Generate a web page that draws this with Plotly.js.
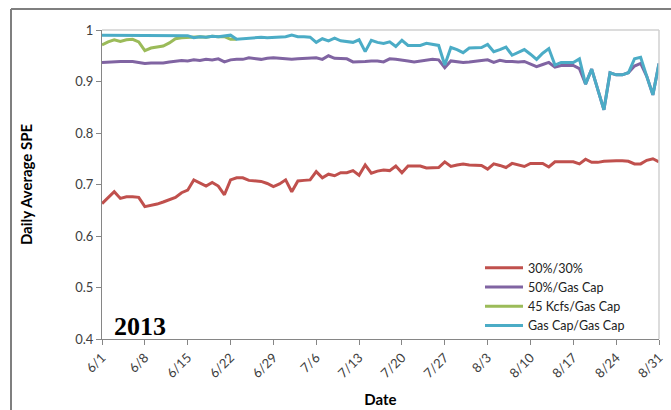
<!DOCTYPE html>
<html><head><meta charset="utf-8">
<script src="https://cdn.plot.ly/plotly-3.0.1.min.js"></script>
<style>html,body{margin:0;padding:0;background:#fff}#chart{width:671px;height:410px}</style>
</head><body><div id="chart"></div>
<script>
// ---- data ----
const startDate = '2013-06-01';
const seriesNames = ['30%/30%', '50%/Gas Cap', '45 Kcfs/Gas Cap', 'Gas Cap/Gas Cap'];
const seriesColors = ['#C0504D', '#8064A2', '#9BBB59', '#4BACC6'];

const red = [
  0.663, 0.675, 0.686, 0.673, 0.676, 0.676, 0.675, 0.657, 0.659, 0.662,
  0.666, 0.670, 0.675, 0.684, 0.689, 0.709, 0.703, 0.697, 0.704, 0.697,
  0.680, 0.709, 0.713, 0.713, 0.708, 0.707, 0.706, 0.702, 0.696, 0.701,
  0.709, 0.686, 0.707, 0.708, 0.709, 0.725, 0.713, 0.720, 0.717, 0.723,
  0.723, 0.727, 0.718, 0.738, 0.722, 0.726, 0.728, 0.727, 0.736, 0.723,
  0.736, 0.736, 0.736, 0.732, 0.733, 0.733, 0.744, 0.735, 0.738, 0.740,
  0.738, 0.737, 0.737, 0.730, 0.740, 0.737, 0.733, 0.741, 0.738, 0.735,
  0.741, 0.741, 0.741, 0.734, 0.744, 0.744, 0.744, 0.744, 0.740, 0.749,
  0.743, 0.743, 0.745, 0.746, 0.746, 0.746, 0.745, 0.740, 0.740, 0.747,
  0.750, 0.744
];
const purple = [
  0.937, 0.938, 0.939, 0.939, 0.939, 0.939, 0.937, 0.935, 0.936, 0.936,
  0.936, 0.938, 0.940, 0.941, 0.940, 0.942, 0.941, 0.943, 0.942, 0.944,
  0.938, 0.942, 0.943, 0.943, 0.946, 0.944, 0.943, 0.945, 0.946, 0.945,
  0.944, 0.943, 0.944, 0.945, 0.945, 0.946, 0.943, 0.950, 0.945, 0.945,
  0.944, 0.938, 0.938, 0.939, 0.940, 0.940, 0.938, 0.944, 0.943, 0.942,
  0.940, 0.938, 0.940, 0.942, 0.943, 0.942, 0.927, 0.940, 0.939, 0.937,
  0.938, 0.940, 0.941, 0.942, 0.937, 0.941, 0.939, 0.939, 0.938, 0.939,
  0.934, 0.929, 0.933, 0.937, 0.928, 0.931, 0.931, 0.931, 0.925, 0.895,
  0.924, 0.885, 0.845, 0.917, 0.913, 0.913, 0.917, 0.930, 0.935, 0.910,
  0.874, 0.935
];
const green = [
  0.971, 0.977, 0.981, 0.978, 0.981, 0.982, 0.977, 0.960, 0.965, 0.967,
  0.969, 0.975, 0.983, 0.985, 0.986, 0.986, 0.987, 0.986, 0.988, 0.987,
  0.987, 0.982, 0.982
];
const blue = [
  0.990, 0.990, 0.990, 0.990, 0.990, 0.990, 0.990, 0.990, 0.990, 0.990,
  0.990, 0.990, 0.990, 0.990, 0.989, 0.985, 0.987, 0.986, 0.988, 0.987,
  0.988, 0.990, 0.982, 0.983, 0.985, 0.985, 0.986, 0.985, 0.986, 0.986,
  0.987, 0.990, 0.987, 0.987, 0.986, 0.976, 0.983, 0.979, 0.984, 0.979,
  0.977, 0.976, 0.981, 0.958, 0.980, 0.976, 0.974, 0.977, 0.968, 0.980,
  0.970, 0.970, 0.970, 0.974, 0.972, 0.970, 0.932, 0.966, 0.962, 0.956,
  0.965, 0.966, 0.966, 0.972, 0.958, 0.962, 0.967, 0.951, 0.957, 0.962,
  0.953, 0.943, 0.955, 0.964, 0.932, 0.937, 0.937, 0.937, 0.944, 0.895,
  0.924, 0.885, 0.845, 0.917, 0.913, 0.913, 0.917, 0.944, 0.947, 0.910,
  0.874, 0.935
];

const xTickVals = ['2013-06-01','2013-06-08','2013-06-15','2013-06-22','2013-06-29','2013-07-06','2013-07-13',
                   '2013-07-20','2013-07-27','2013-08-03','2013-08-10','2013-08-17','2013-08-24','2013-08-31'];
const xTickText = ['6/1','6/8','6/15','6/22','6/29','7/6','7/13','7/20','7/27','8/3','8/10','8/17','8/24','8/31'];
const yTickVals = [0.4, 0.5, 0.6, 0.7, 0.8, 0.9, 1.0];
const yTickText = ['0.4','0.5','0.6','0.7','0.8','0.9','1'];

// ---- dates ----
function datesFor(n) {
  const out = [];
  const t0 = Date.parse(startDate + 'T00:00:00Z');
  for (let i = 0; i < n; i++) {
    out.push(new Date(t0 + i * 86400000).toISOString().slice(0, 10));
  }
  return out;
}

const allSeries = [red, purple, green, blue];
const traces = allSeries.map((vals, i) => ({
  type: 'scatter', mode: 'lines',
  x: datesFor(vals.length), y: vals,
  name: seriesNames[i],
  line: {color: seriesColors[i], width: 3}
}));

const FONT = 'Lato, "Liberation Sans", sans-serif';
const px2x = px => (px - 102) / 557;
const py2y = py => 1 - (py - 30) / 309;

const layout = {
  width: 671, height: 410,
  margin: {l: 102, r: 12, t: 30, b: 71},
  paper_bgcolor: '#ffffff', plot_bgcolor: '#ffffff',
  font: {family: FONT, size: 13, color: '#404040'},
  showlegend: true,
  legend: {
    x: px2x(480), y: py2y(253), xanchor: 'left', yanchor: 'top',
    bgcolor: 'rgba(0,0,0,0)', borderwidth: 0,
    font: {family: FONT, size: 12.5, color: '#222'},
    itemwidth: 38
  },
  xaxis: {
    type: 'date',
    range: ['2013-06-01', '2013-08-31'],
    tickmode: 'array', tickvals: xTickVals, ticktext: xTickText,
    tickangle: -45,
    ticks: 'outside', ticklen: 5, tickcolor: '#868686',
    showline: true, linecolor: '#868686', linewidth: 1,
    showgrid: false, zeroline: false,
    tickfont: {family: FONT, size: 13, color: '#404040'},
    title: {text: '<b>Date</b>', font: {family: FONT, size: 15, color: '#000'}, standoff: 14}
  },
  yaxis: {
    range: [0.4, 1.0],
    tickmode: 'array', tickvals: yTickVals, ticktext: yTickText,
    ticks: 'outside', ticklen: 5, tickcolor: '#868686',
    showline: true, linecolor: '#868686', linewidth: 1,
    showgrid: false, zeroline: false,
    tickfont: {family: FONT, size: 13, color: '#404040'},
    title: {text: '<b>Daily Average SPE</b>', font: {family: FONT, size: 15, color: '#000'}, standoff: 38}
  },
  shapes: [
    // plot area border (light grey)
    {type: 'line', xref: 'paper', yref: 'paper', x0: 0, x1: 1, y0: 1, y1: 1, line: {color: '#d0d0d0', width: 1.5}},
    {type: 'line', xref: 'paper', yref: 'paper', x0: 1, x1: 1, y0: 0, y1: 1, line: {color: '#d0d0d0', width: 1.5}},
    // outer chart frame (top and left)
    {type: 'line', xref: 'paper', yref: 'paper', x0: px2x(11), x1: px2x(700), y0: py2y(9), y1: py2y(9), line: {color: '#7f7f7f', width: 2}},
    {type: 'line', xref: 'paper', yref: 'paper', x0: px2x(11), x1: px2x(11), y0: py2y(9), y1: py2y(440), line: {color: '#7f7f7f', width: 2}}
  ],
  annotations: [
    {text: '<b>2013</b>', xref: 'paper', yref: 'paper', x: px2x(140), y: py2y(326),
     xanchor: 'center', yanchor: 'middle', showarrow: false,
     font: {family: '"Liberation Serif", "DejaVu Serif", serif', size: 26, color: '#000'}}
  ]
};

Plotly.newPlot('chart', traces, layout, {displayModeBar: false, staticPlot: true});
</script>
</body></html>
